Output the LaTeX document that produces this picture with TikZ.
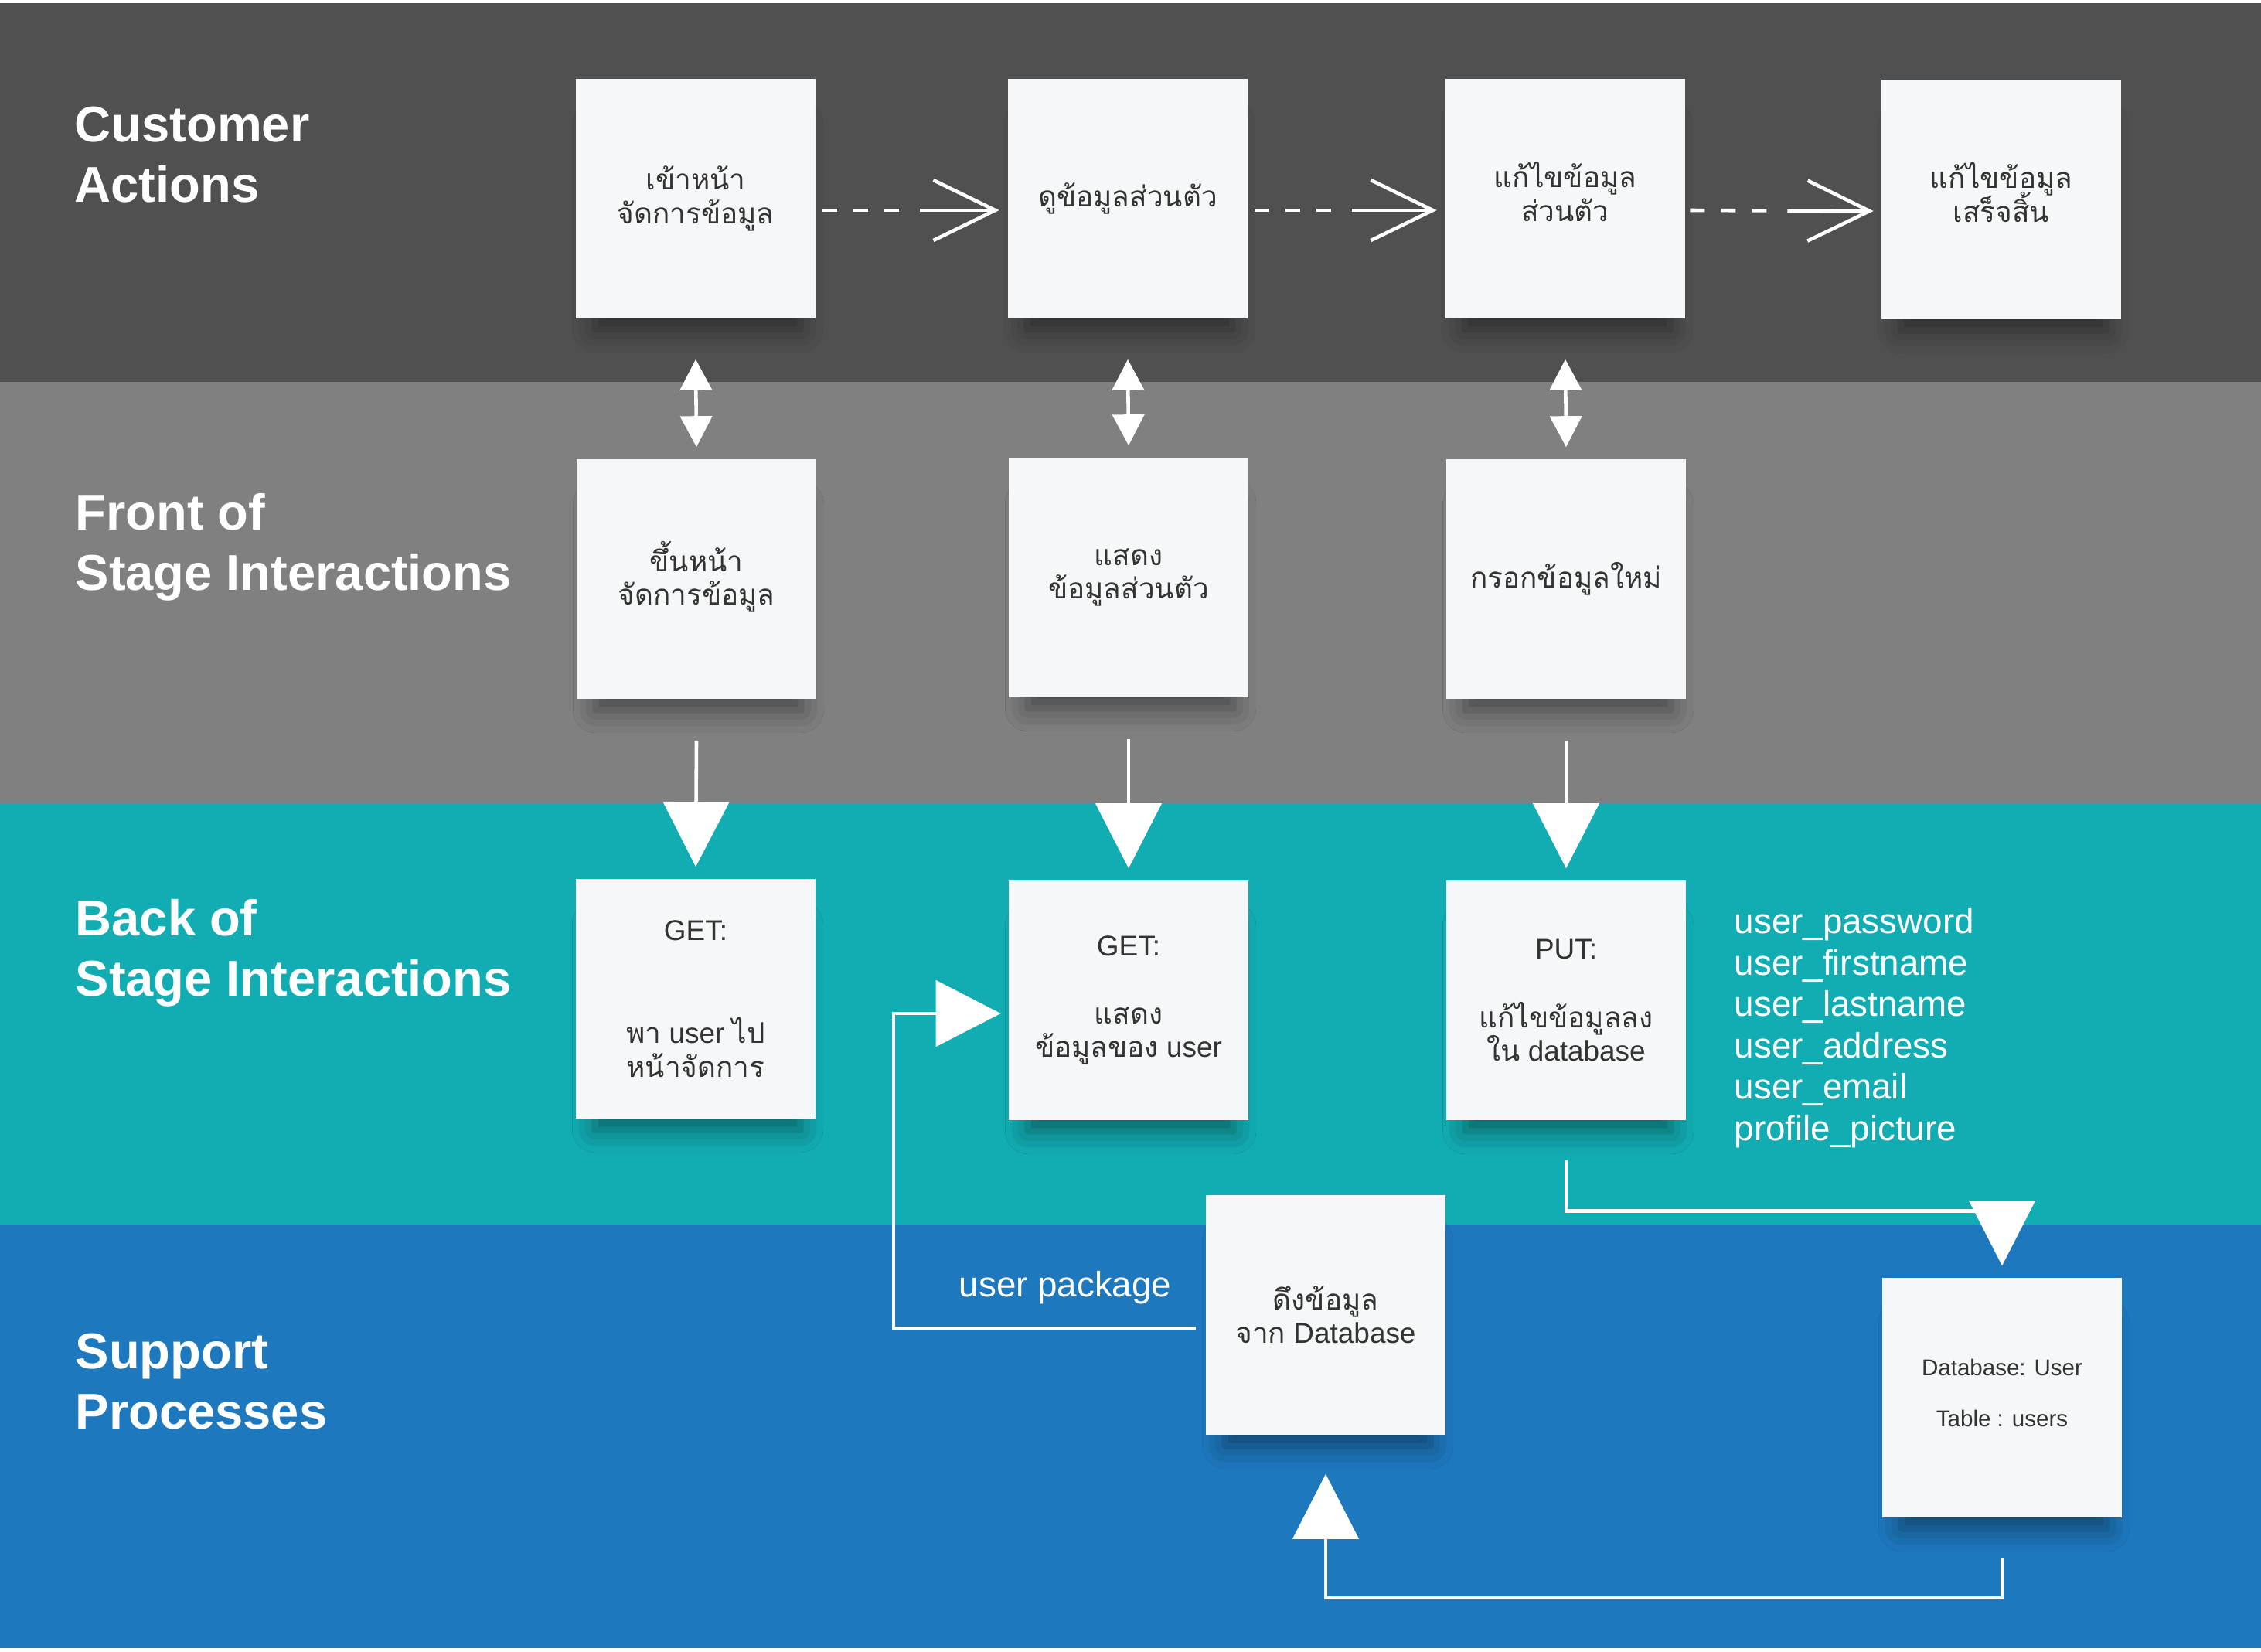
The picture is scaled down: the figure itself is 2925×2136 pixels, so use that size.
\documentclass[tikz,border=0pt]{standalone}
\usepackage{fontspec}
\setmainfont{Liberation Sans}
\newfontfamily\thai[Script=Thai]{Loma}
\usetikzlibrary{arrows.meta,shadows.blur}

\definecolor{laneCustomer}{HTML}{505050}
\definecolor{laneFront}{HTML}{808080}
\definecolor{laneBack}{HTML}{12ADB3}
\definecolor{laneSupport}{HTML}{1E78BE}
\definecolor{notefill}{HTML}{F6F7F8}
\definecolor{notetext}{HTML}{333333}

% note text: fixed baseline distance even with Thai marks above the line
\newcommand{\notefont}{\fontsize{10.5}{12.3}\selectfont\lineskiplimit=-20pt\relax\lineskip=0pt\relax}
\newcommand{\dbfont}{\fontsize{8.4}{10}\selectfont}

\begin{document}
\begin{tikzpicture}[x=0.01cm, y=-0.01cm,
  lanetitle/.style={anchor=north west, align=left, inner sep=0, text=white,
    font=\fontsize{18.5}{22.2}\selectfont\bfseries},
  note/.style={fill=notefill, minimum width=3.09cm, minimum height=3.1cm,
    inner sep=0, align=center, text=notetext, font=\notefont,
    blur shadow={shadow xshift=0.03cm, shadow yshift=-0.42cm,
      shadow scale=0.86, shadow blur radius=0.34cm,
      shadow opacity=44}},
  smallnote/.style={note, font=\dbfont},
  link/.style={draw=white, line width=1.3pt},
  dashlink/.style={link, dash pattern=on 0.19cm off 0.21cm on 0.19cm off 0.21cm on 0.19cm off 0.27cm on 3cm,
    -{Straight Barb[length=0.8cm, width=0.78cm]}},
  duallink/.style={link, {Triangle[length=0.40cm, width=0.41cm]}-{Triangle[length=0.40cm, width=0.41cm]}},
  biglink/.style={link, -{Triangle[length=0.84cm, width=0.85cm]}},
  sidetext/.style={text=white, inner sep=0, font=\fontsize{13}{15.2}\selectfont}
]
\useasboundingbox (0,0) rectangle (2925,2136);
\fill[white] (0,0) rectangle (2925,2136);

% swimlanes
\fill[laneCustomer] (0,4) rectangle (2925,494);
\fill[laneFront] (0,494) rectangle (2925,1039);
\fill[laneBack] (0,1039) rectangle (2925,1584);
\fill[laneSupport] (0,1584) rectangle (2925,2132);

% lane titles
\node[lanetitle] (tCustomer) at (96,137) {Customer\\Actions};
\node[lanetitle] (tFront) at (97,638) {Front of\\Stage Interactions};
\node[lanetitle] (tBack) at (97,1163) {Back of\\Stage Interactions};
\node[lanetitle] (tSupport) at (97,1724) {Support\\Processes};

% customer actions
\node[note] (A1) at (900,257) {\thai เข้าหน้า\\\thai จัดการข้อมูล};
\node[note] (A2) at (1459,257) {\thai ดูข้อมูลส่วนตัว};
\node[note] (A3) at (2025,257) {\thai แก้ไขข้อมูล\\\thai ส่วนตัว\\[-0.25cm]};
\node[note] (A4) at (2589,258) {\thai แก้ไขข้อมูล\\\thai เสร็จสิ้น\\[-0.25cm]};

% front of stage
\node[note] (B1) at (901,749) {\thai ขึ้นหน้า\\\thai จัดการข้อมูล\\[-0.28cm]};
\node[note] (B2) at (1460,747) {\thai แสดง\\\thai ข้อมูลส่วนตัว};
\node[note] (B3) at (2026,749) {\thai กรอกข้อมูลใหม่};

% back of stage
\node[note] (C1) at (900,1292) {GET:\\[0.9cm]{\thai พา} user {\thai ไป}\\\thai หน้าจัดการ};
\node[note] (C2) at (1460,1294) {GET:\\[0.45cm]\thai แสดง\\{\thai ข้อมูลของ} user};
\node[note] (C3) at (2026,1294) {PUT:\\[0.45cm]\thai แก้ไขข้อมูลลง\\{\thai ใน} database};

% support processes
\node[note] (D1) at (1715,1701) {\thai ดึงข้อมูล\\{\thai จาก} Database};
\node[smallnote] (D2) at (2590,1808) {Database: User\\[0.31cm]Table : users\\[-0.23cm]};

% side texts
\node[sidetext, anchor=north west, align=left] (fields) at (2243,1174)
  {user\_password\\user\_firstname\\user\_lastname\\user\_address\\user\_email\\profile\_picture};
\node[sidetext, anchor=base west] (pkg) at (1240,1677) {user package};

% customer flow
\draw[dashlink] ([shift={(9,15)}]A1.east) -- ([shift={(-11,15)}]A2.west);
\draw[dashlink] ([shift={(9,15)}]A2.east) -- ([shift={(-11,15)}]A3.west);
\draw[dashlink] ([shift={(6,15)}]A3.east) -- ([shift={(-10,15)}]A4.west);

% customer <-> front of stage
\draw[duallink] ([shift={(0,52)}]A1.south) -- ([shift={(0,-15)}]B1.north);
\draw[duallink] ([shift={(0,52)}]A2.south) -- ([shift={(0,-15)}]B2.north);
\draw[duallink] ([shift={(0,52)}]A3.south) -- ([shift={(0,-15)}]B3.north);

% front -> back of stage
\draw[biglink] ([shift={(0,53)}]B1.south) -- ([shift={(0,-15)}]C1.north);
\draw[biglink] ([shift={(0,53)}]B2.south) -- ([shift={(0,-15)}]C2.north);
\draw[biglink] ([shift={(0,53)}]B3.south) -- ([shift={(0,-15)}]C3.north);

% data returned to the profile view
\coordinate (pkgcorner) at (1156,1718);
\draw[biglink] ([shift={(-13,17)}]D1.west) -- (pkgcorner) |- ([shift={(-10,17)}]C2.west);

% update written to the database
\draw[biglink] ([shift={(0,51)}]C3.south) |- ([shift={(0,-86)}]D2.north) -- ([shift={(0,-15)}]D2.north);

% database feeds the fetch step
\coordinate (retcorner) at (2590,2067);
\draw[biglink] ([shift={(0,52)}]D2.south) -- (retcorner) -| ([shift={(0,50)}]D1.south);
\end{tikzpicture}
\end{document}
